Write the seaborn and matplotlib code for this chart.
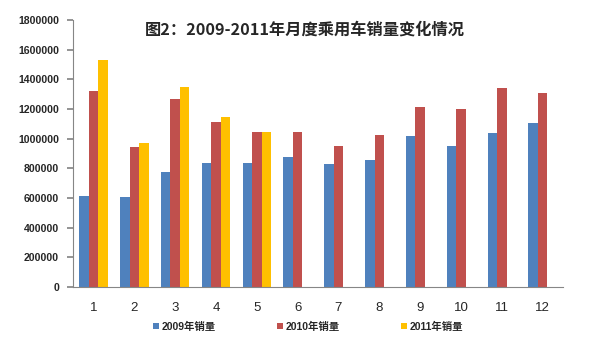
import numpy as np
import pandas as pd
import matplotlib
matplotlib.use('Agg')
import matplotlib.pyplot as plt
import seaborn as sns

months = [str(m) for m in range(1, 13)]
sales_2009 = [610000, 606000, 775000, 833000, 833000, 874000,
              831000, 858000, 1018000, 948000, 1038000, 1103000]
sales_2010 = [1318000, 945000, 1269000, 1112000, 1042000, 1042000,
              948000, 1022000, 1211000, 1202000, 1341000, 1310000]
sales_2011 = [1530000, 968000, 1350000, 1148000, 1045000]
series_names = ['2009年销量', '2010年销量', '2011年销量']
colors = ['#4F81BD', '#C0504D', '#FFC000']
title = '图2：2009-2011年月度乘用车销量变化情况'

rows = []
for name, vals in zip(series_names, [sales_2009, sales_2010, sales_2011]):
    for m, v in zip(months, vals):
        rows.append({'月份': m, '销量': v, '系列': name})
df = pd.DataFrame(rows)

sns.set_theme(style='white')
plt.rcParams['font.family'] = ['Liberation Sans', 'Noto Sans CJK SC']

fig = plt.figure(figsize=(5.89, 3.56), dpi=100)
ax = fig.add_axes([0.124, 0.194, 0.832, 0.75])

sns.barplot(data=df, x='月份', y='销量', hue='系列', order=months,
            hue_order=series_names, palette=colors, width=0.7,
            gap=0, saturation=1, linewidth=0, ax=ax, legend=True)

ax.set_ylim(0, 1800000)
ax.set_xlim(-0.5, 11.5)
ax.set_yticks(np.arange(0, 1800001, 200000))
ax.set_yticklabels([str(v) for v in range(0, 1800001, 200000)],
                   fontsize=7.6, fontweight='bold')
ax.set_xticks(range(12))
ax.set_xticklabels(months, fontsize=9.5)
ax.set_xticks(np.arange(-0.5, 12, 1), minor=True)
ax.tick_params(axis='x', which='major', length=0, pad=11)
ax.tick_params(axis='x', which='minor', length=4, color='#868686', direction='out')
ax.tick_params(axis='y', length=4, color='#868686', direction='out', left=True, pad=6)
ax.set_xlabel('')
ax.set_ylabel('')

for side in ['top', 'right']:
    ax.spines[side].set_visible(False)
for side in ['left', 'bottom']:
    ax.spines[side].set_color('#868686')
    ax.spines[side].set_linewidth(0.8)

handles, labels = ax.get_legend_handles_labels()
ax.get_legend().remove()
leg = fig.legend(handles, labels, loc='center', bbox_to_anchor=(0.523, 0.083),
                 ncol=3, frameon=False, fontsize=7.5, handlelength=0.6,
                 handleheight=0.6, handletextpad=0.3, columnspacing=5.8)
for t in leg.get_texts():
    t.set_fontweight('bold')

fig.text(0.517, 0.916, title, ha='center', va='center', fontsize=11.7,
         fontweight='bold', family=['Noto Sans CJK SC', 'DejaVu Sans'])

fig.savefig('out.png', dpi=100)
